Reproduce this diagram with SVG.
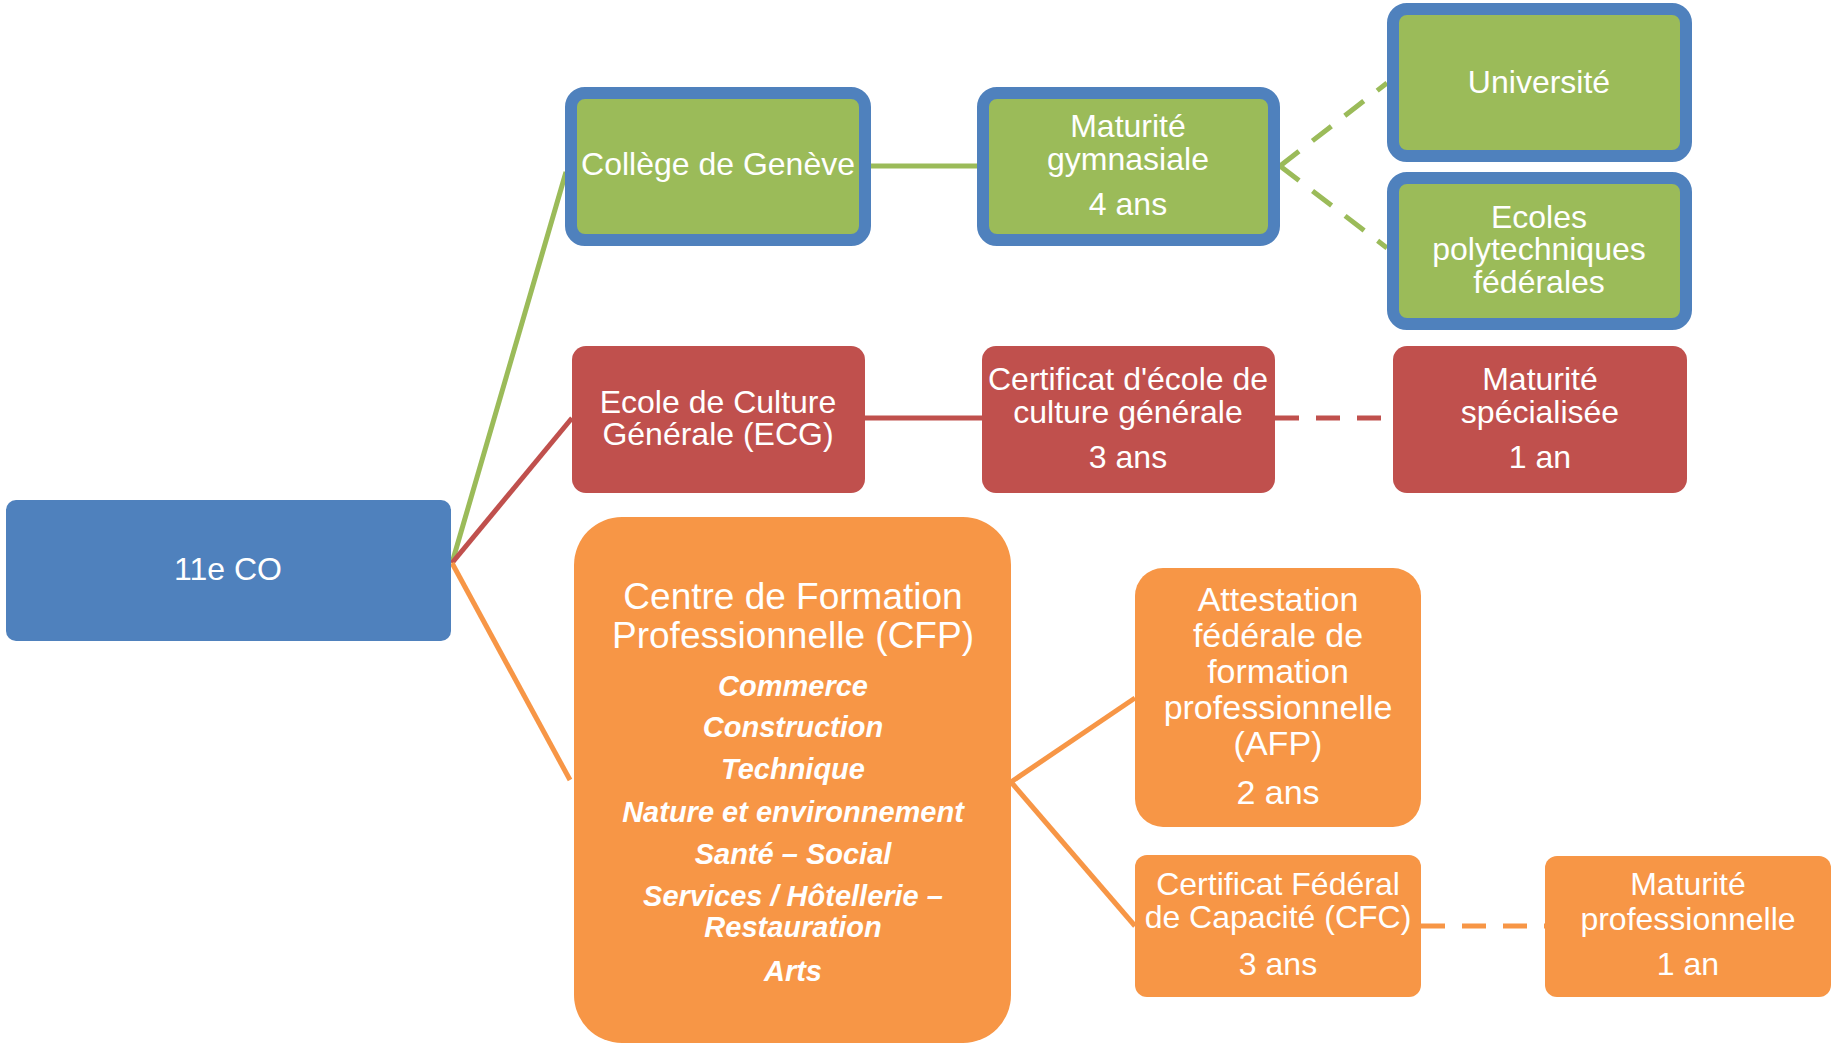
<svg xmlns="http://www.w3.org/2000/svg" width="1831" height="1048" viewBox="0 0 1831 1048">
<style>
text{font-family:"Liberation Sans",Arial,sans-serif;fill:#fff;text-anchor:middle}
.t32{font-size:32px}
.t34{font-size:34px}
.t37{font-size:37px}
.bi{font-size:29px;font-weight:bold;font-style:italic}
.g{fill:#9BBB59;stroke:#4F81BD;stroke-width:12}
.r{fill:#C0504D}
.o{fill:#F79646}
.b{fill:#4F81BD}
.cg{stroke:#9BBB59;stroke-width:5;fill:none}
.cr{stroke:#C0504D;stroke-width:5;fill:none}
.co{stroke:#F79646;stroke-width:5;fill:none}
.d{stroke-dasharray:24 17}
</style>
<rect width="1831" height="1048" fill="#fff"/>
<g id="connectors">
<path class="cg" d="M452,563 L566,172"/>
<path class="cg" d="M871,166 L977,166"/>
<path class="cg d" d="M1280,166 L1387,83"/>
<path class="cg d" d="M1280,166 L1387,248"/>
<path class="cr" d="M452,563 L572,418"/>
<path class="cr" d="M865,418 L982,418"/>
<path class="cr d" d="M1275,418 L1393,418"/>
<path class="co" d="M452,563 L570,780"/>
<path class="co" d="M1011,782 L1135,698"/>
<path class="co" d="M1011,782 L1135,926"/>
<path class="co d" d="M1421,926 L1545,926"/>
</g>
<g id="n-11eco">
<rect class="b" x="6" y="500" width="445" height="141" rx="10"/>
<text class="t32" x="228" y="580">11e CO</text>
</g>
<g id="n-college">
<rect class="g" x="571" y="93" width="294" height="147" rx="14"/>
<text class="t32" x="718" y="175">Collège de Genève</text>
</g>
<g id="n-matgym">
<rect class="g" x="983" y="93" width="291" height="147" rx="14"/>
<text class="t32" x="1128" y="137">Maturité</text>
<text class="t32" x="1128" y="170">gymnasiale</text>
<text class="t32" x="1128" y="215">4 ans</text>
</g>
<g id="n-universite">
<rect class="g" x="1393" y="9" width="293" height="147" rx="14"/>
<text class="t32" x="1539" y="93">Université</text>
</g>
<g id="n-epf">
<rect class="g" x="1393" y="178" width="293" height="146" rx="14"/>
<text class="t32" x="1539" y="228">Ecoles</text>
<text class="t32" x="1539" y="260">polytechniques</text>
<text class="t32" x="1539" y="293">fédérales</text>
</g>
<g id="n-ecg">
<rect class="r" x="572" y="346" width="293" height="147" rx="14"/>
<text class="t32" x="718" y="413">Ecole de Culture</text>
<text class="t32" x="718" y="445">Générale (ECG)</text>
</g>
<g id="n-certecg">
<rect class="r" x="982" y="346" width="293" height="147" rx="14"/>
<text class="t32" x="1128" y="390">Certificat d'école de</text>
<text class="t32" x="1128" y="423">culture générale</text>
<text class="t32" x="1128" y="468">3 ans</text>
</g>
<g id="n-matspec">
<rect class="r" x="1393" y="346" width="294" height="147" rx="14"/>
<text class="t32" x="1540" y="390">Maturité</text>
<text class="t32" x="1540" y="423">spécialisée</text>
<text class="t32" x="1540" y="468">1 an</text>
</g>
<g id="n-cfp">
<rect class="o" x="574" y="517" width="437" height="526" rx="48"/>
<text class="t37" x="793" y="609">Centre de Formation</text>
<text class="t37" x="793" y="648">Professionnelle (CFP)</text>
<text class="bi" x="793" y="696">Commerce</text>
<text class="bi" x="793" y="737">Construction</text>
<text class="bi" x="793" y="779">Technique</text>
<text class="bi" x="793" y="822">Nature et environnement</text>
<text class="bi" x="793" y="864">Santé – Social</text>
<text class="bi" x="793" y="906">Services / Hôtellerie –</text>
<text class="bi" x="793" y="937">Restauration</text>
<text class="bi" x="793" y="981">Arts</text>
</g>
<g id="n-afp">
<rect class="o" x="1135" y="568" width="286" height="259" rx="28"/>
<text class="t34" x="1278" y="611">Attestation</text>
<text class="t34" x="1278" y="647">fédérale de</text>
<text class="t34" x="1278" y="683">formation</text>
<text class="t34" x="1278" y="719">professionnelle</text>
<text class="t34" x="1278" y="755">(AFP)</text>
<text class="t34" x="1278" y="804">2 ans</text>
</g>
<g id="n-cfc">
<rect class="o" x="1135" y="855" width="286" height="142" rx="12"/>
<text class="t32" x="1278" y="895">Certificat Fédéral</text>
<text class="t32" x="1278" y="928">de Capacité (CFC)</text>
<text class="t32" x="1278" y="975">3 ans</text>
</g>
<g id="n-matpro">
<rect class="o" x="1545" y="856" width="286" height="141" rx="12"/>
<text class="t32" x="1688" y="895">Maturité</text>
<text class="t32" x="1688" y="930">professionnelle</text>
<text class="t32" x="1688" y="975">1 an</text>
</g>
</svg>
